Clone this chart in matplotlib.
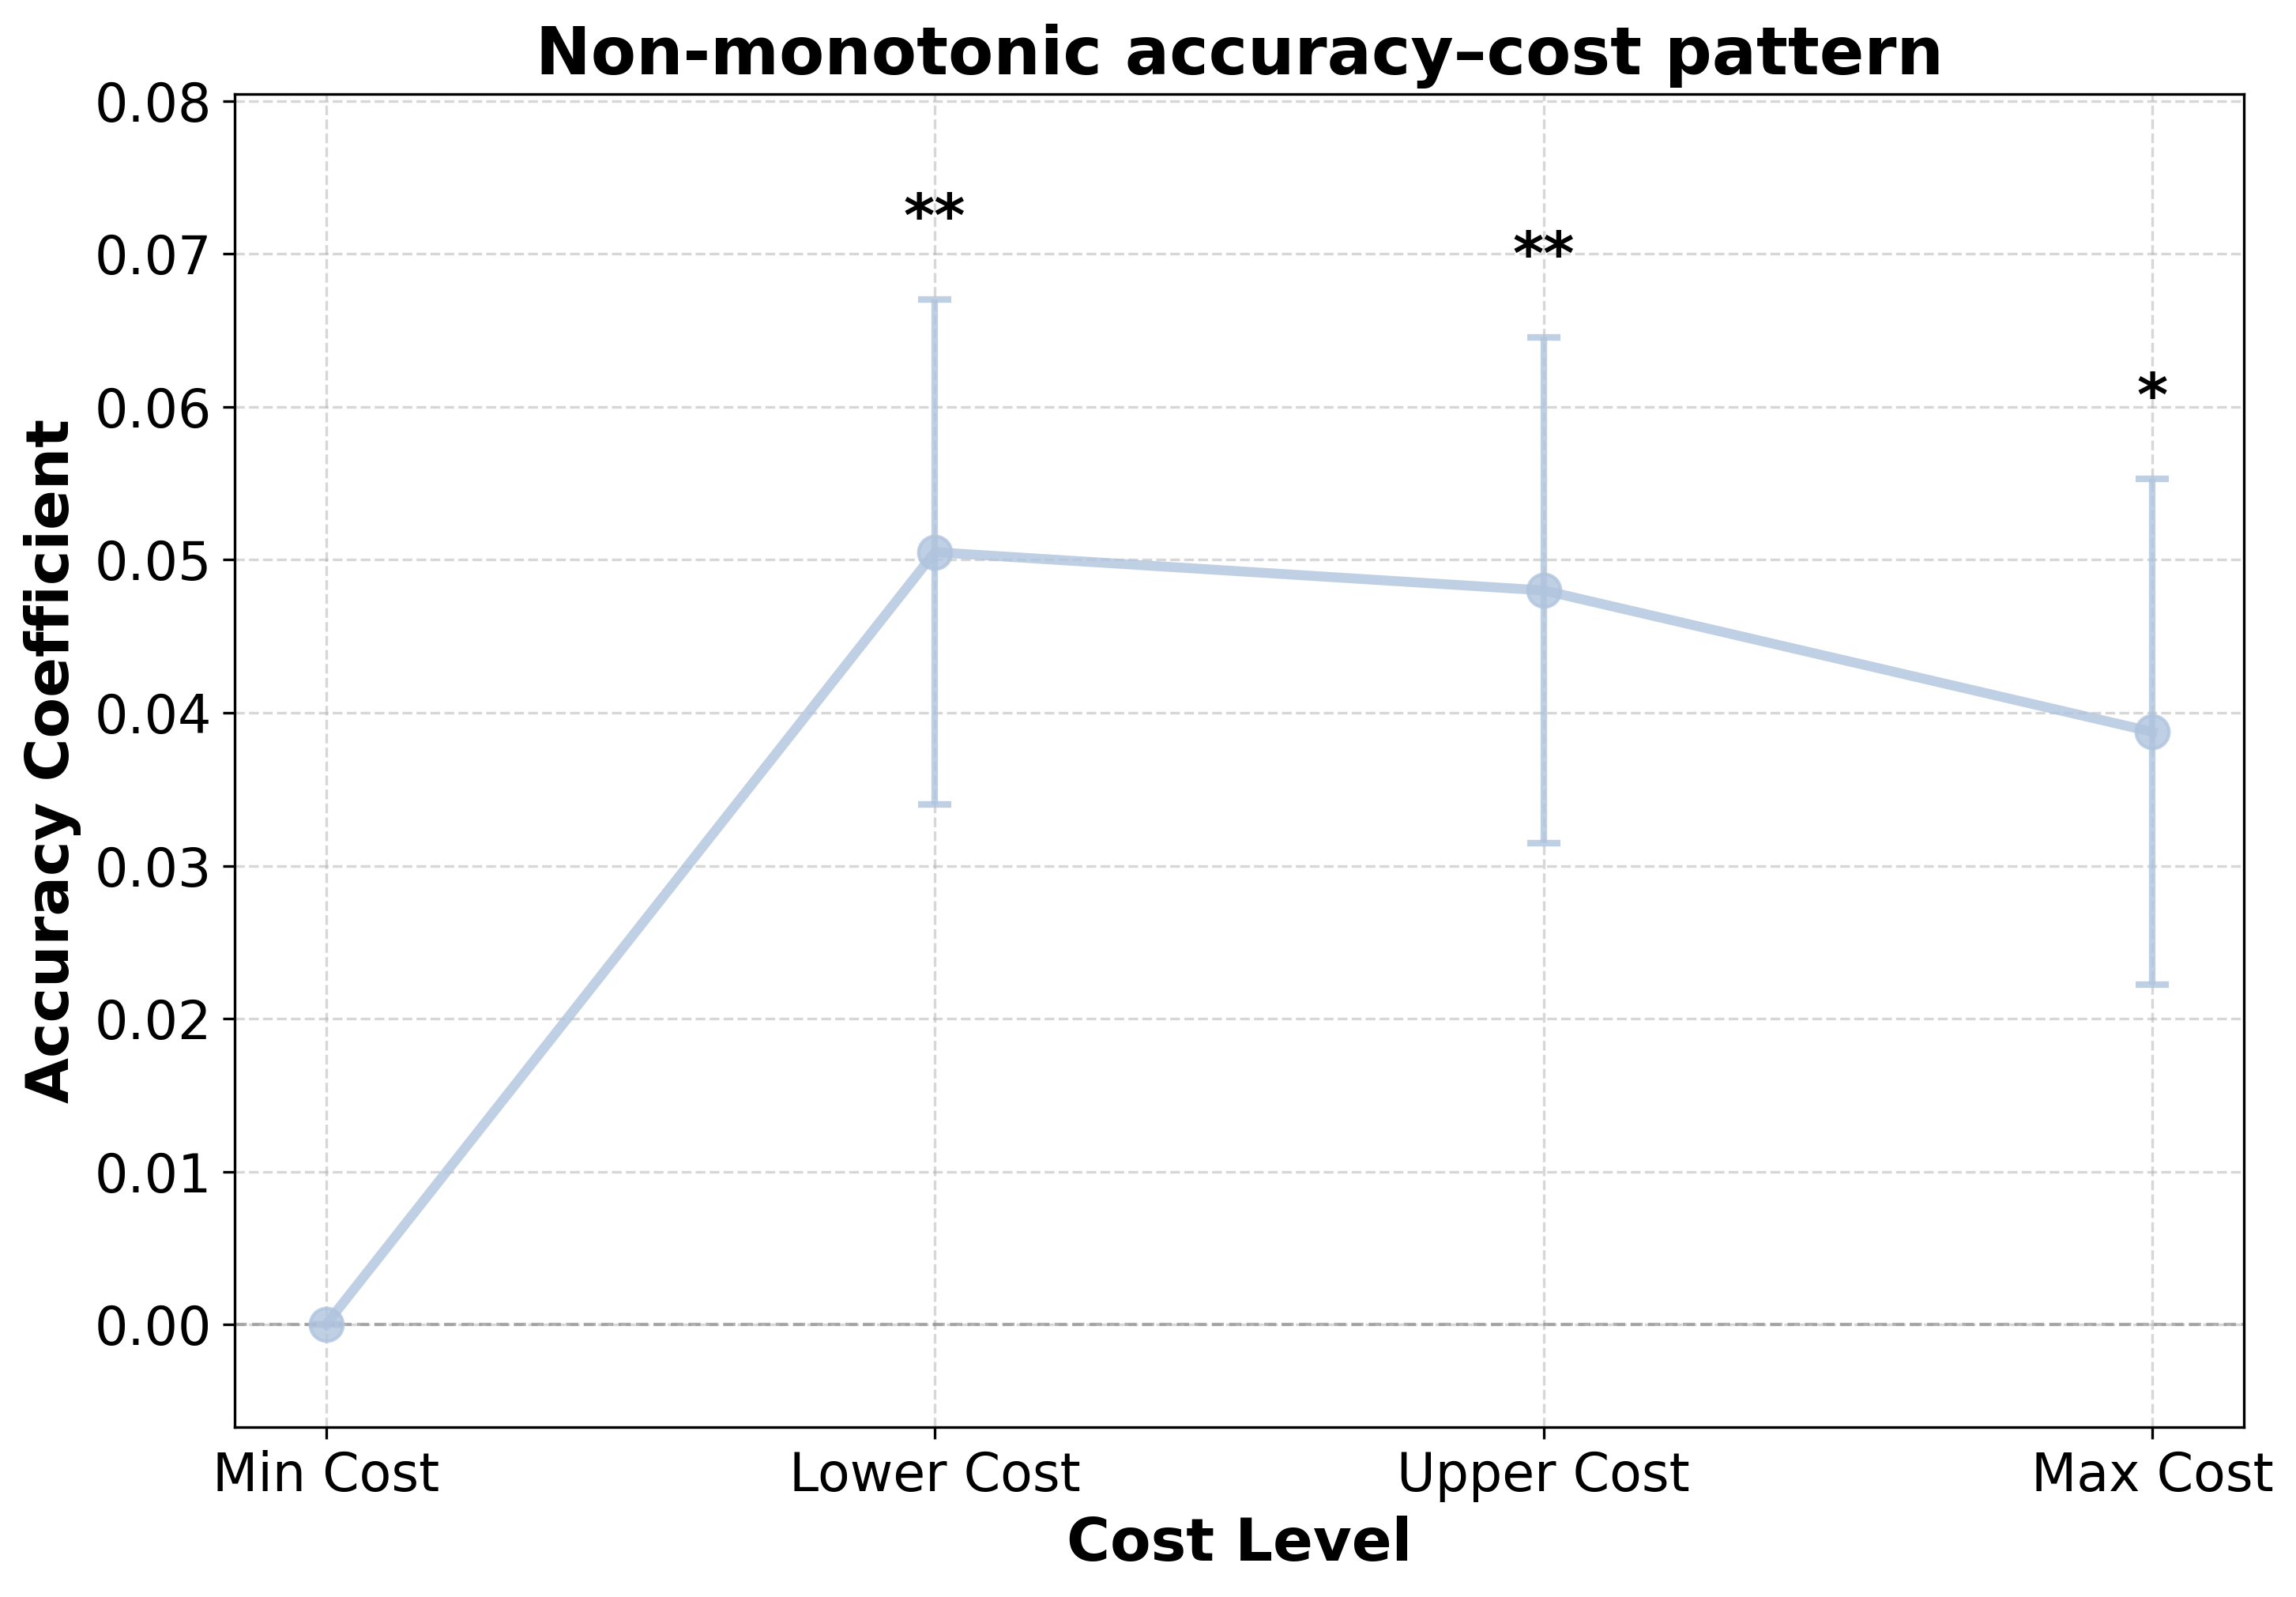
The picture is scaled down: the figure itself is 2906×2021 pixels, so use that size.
import matplotlib
matplotlib.use("Agg")
import matplotlib.pyplot as plt
import numpy as np

# values
cost_levels = ["Min Cost", "Lower Cost", "Upper Cost", "Max Cost"]
coefficients = [0.0, 0.0505, 0.0480, 0.03875]
ci_halfwidth = [0.0, 0.01651, 0.01653, 0.01654]
stars = ["", "**", "**", "*"]

fig = plt.figure(figsize=(2906 / 300, 2021 / 300), dpi=300)
ax = fig.add_axes([0.1022, 0.1064, 0.8751, 0.8347])

x = np.arange(len(cost_levels))
line_color = "#B0C4DE"

ax.errorbar(x, coefficients, yerr=ci_halfwidth, fmt="-o", color=line_color,
            alpha=0.8, linewidth=3, markersize=10, capsize=5, capthick=2,
            elinewidth=2)

# significance stars above the upper ends of the intervals
for xi, c, e, s in zip(x, coefficients, ci_halfwidth, stars):
    if s:
        ax.text(xi, c + e + 0.0033, s, ha="center", va="bottom",
                fontsize=18, fontweight="bold")

ax.axhline(0, color="gray", linestyle="--", linewidth=1, alpha=0.6)

ax.set_xticks(x)
ax.set_xticklabels(cost_levels)
ax.set_ylim(-0.0067, 0.08045)
ax.set_yticks(np.arange(0, 0.081, 0.01))
ax.tick_params(axis="both", labelsize=16)
ax.grid(True, linestyle="--", alpha=0.5)

ax.set_xlabel("Cost Level", fontsize=18, fontweight="bold")
ax.set_ylabel("Accuracy Coefficient", fontsize=18, fontweight="bold")
ax.set_title("Non-monotonic accuracy\u2013cost pattern", fontsize=20,
             fontweight="bold")

fig.savefig("out.png", dpi=300)
